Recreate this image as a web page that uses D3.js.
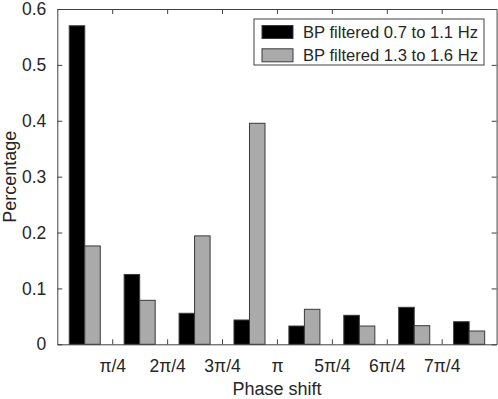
<!DOCTYPE html>
<html>
<head>
<meta charset="utf-8">
<script src="https://cdn.jsdelivr.net/npm/d3@7"></script>
<style>
  body { margin: 0; background: #fff; }
  svg { display: block; font-family: "Liberation Sans", Arial, sans-serif; }
</style>
</head>
<body>
<div id="chart"></div>
<script>
'use strict';

var groups = [1, 2, 3, 4, 5, 6, 7, 8];
var seriesNames = ['BP filtered 0.7 to 1.1 Hz', 'BP filtered 1.3 to 1.6 Hz'];
var lowBand = [0.570, 0.125, 0.0555, 0.0435, 0.0327, 0.0519, 0.0662, 0.0404];
var highBand = [0.176, 0.0787, 0.194, 0.3955, 0.0626, 0.0327, 0.0333, 0.0238];
var xTickPos = [1.5, 2.5, 3.5, 4.5, 5.5, 6.5, 7.5];
var xTickLabels = ['\u03c0/4', '2\u03c0/4', '3\u03c0/4', '\u03c0', '5\u03c0/4', '6\u03c0/4', '7\u03c0/4'];
var yTicks = [0, 0.1, 0.2, 0.3, 0.4, 0.5, 0.6];

var chartW = 498,
    chartH = 399,
    margin = { top: 9, right: 1.4, bottom: 54.7, left: 57.3 },
    axisColor = '#404040',
    textColor = '#262626',
    fills = ['#000000', '#aaaaaa'],
    barW = 0.2825;

var svg = d3.select('#chart').append('svg')
  .attr('width', chartW)
  .attr('height', chartH);

var x = d3.scaleLinear().domain([0.5, 8.5]).range([margin.left, chartW - margin.right]);
var y = d3.scaleLinear().domain([0, 0.6]).range([chartH - margin.bottom, margin.top]);

// bars
var series = [lowBand, highBand];
series.forEach(function (vals, s) {
  svg.append('g').selectAll('rect')
    .data(groups)
    .enter().append('rect')
    .attr('x', function (d) { return x(d - barW + s * barW); })
    .attr('width', x(barW) - x(0))
    .attr('y', function (d, i) { return y(vals[i]); })
    .attr('height', function (d, i) { return y(0) - y(vals[i]); })
    .attr('fill', fills[s])
    .attr('stroke', '#3a3a3a')
    .attr('stroke-width', 1);
});

// axes box with inward ticks
var axLeft = d3.axisLeft(y).tickValues(yTicks).tickSizeInner(-5).tickSizeOuter(0)
  .tickPadding(11).tickFormat(function (d) { return d === 0 ? '0' : d3.format('.1f')(d); });
var axRight = d3.axisRight(y).tickValues(yTicks).tickSizeInner(-5).tickSizeOuter(0).tickFormat('');
var axBottom = d3.axisBottom(x).tickValues(xTickPos).tickSizeInner(-5).tickSizeOuter(0)
  .tickPadding(15).tickFormat(function (d, i) { return xTickLabels[i]; });
var axTop = d3.axisTop(x).tickValues(xTickPos).tickSizeInner(-5).tickSizeOuter(0).tickFormat('');

function styleAxis(g) {
  g.select('.domain').attr('stroke', axisColor);
  g.selectAll('.tick line').attr('stroke', axisColor);
  g.selectAll('.tick text').attr('fill', textColor).style('font-size', '17.5px')
    .style('font-family', '"Liberation Sans", Arial, sans-serif');
}

svg.append('g').attr('transform', 'translate(' + margin.left + ',0)').call(axLeft).call(styleAxis);
svg.append('g').attr('transform', 'translate(' + (chartW - margin.right) + ',0)').call(axRight).call(styleAxis);
svg.append('g').attr('transform', 'translate(0,' + (chartH - margin.bottom) + ')').call(axBottom).call(styleAxis);
svg.append('g').attr('transform', 'translate(0,' + margin.top + ')').call(axTop).call(styleAxis);

// axis labels
svg.append('text')
  .attr('x', (margin.left + chartW - margin.right) / 2)
  .attr('y', 395)
  .attr('text-anchor', 'middle')
  .attr('fill', textColor)
  .style('font-size', '18px')
  .text('Phase shift');

svg.append('text')
  .attr('transform', 'translate(16,' + (margin.top + chartH - margin.bottom) / 2 + ') rotate(-90)')
  .attr('text-anchor', 'middle')
  .attr('fill', textColor)
  .style('font-size', '18px')
  .text('Percentage');

// legend
var legend = svg.append('g');
legend.append('rect')
  .attr('x', 254).attr('y', 19).attr('width', 230).attr('height', 46)
  .attr('fill', '#fff').attr('stroke', axisColor).attr('stroke-width', 1);

seriesNames.forEach(function (name, i) {
  var cy = 32 + i * 23.3;
  legend.append('rect')
    .attr('x', 262).attr('y', cy - 6.5).attr('width', 31).attr('height', 13)
    .attr('fill', fills[i]).attr('stroke', '#3a3a3a');
  legend.append('text')
    .attr('x', 303).attr('y', cy + 5.7)
    .attr('fill', textColor)
    .style('font-size', '16.6px')
    .text(name);
});
</script>
</body>
</html>
